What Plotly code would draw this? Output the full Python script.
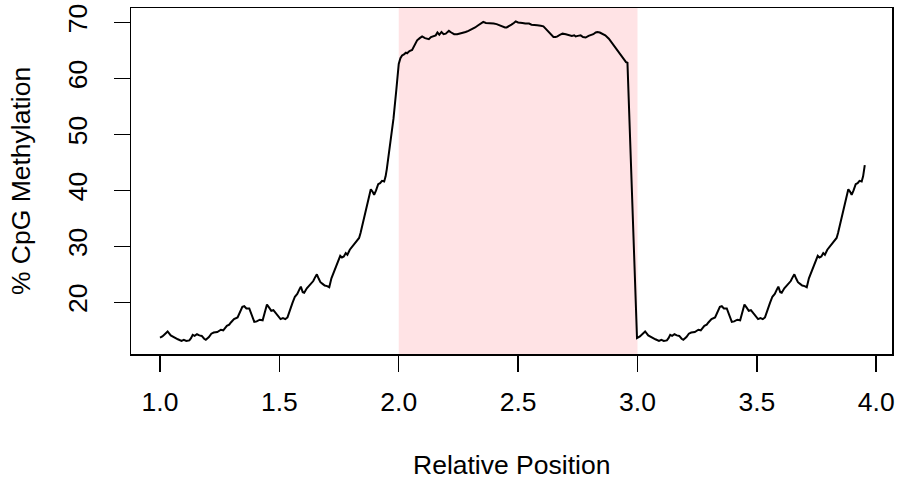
import plotly.graph_objects as go

# ---- data ----
upstream_pos = [1.000, 1.010, 1.020, 1.032, 1.045, 1.060, 1.075, 1.090, 1.100, 1.110,
                1.123, 1.130, 1.137, 1.145, 1.155, 1.165, 1.175, 1.185, 1.192, 1.205,
                1.215, 1.225, 1.240, 1.255, 1.265, 1.280, 1.290, 1.297, 1.310, 1.325,
                1.335, 1.345, 1.353, 1.362, 1.374, 1.385, 1.395, 1.405, 1.418, 1.430,
                1.440, 1.448, 1.458, 1.466, 1.475, 1.485, 1.495, 1.505, 1.515, 1.525,
                1.534, 1.545, 1.555, 1.565, 1.575, 1.585, 1.590, 1.598, 1.604, 1.615,
                1.625, 1.632, 1.642, 1.650, 1.657, 1.665, 1.672, 1.681, 1.690, 1.700,
                1.709, 1.718, 1.728, 1.736, 1.748, 1.755, 1.762, 1.770, 1.778, 1.785,
                1.795, 1.806, 1.815, 1.825, 1.834, 1.840, 1.845, 1.855, 1.862, 1.872,
                1.883, 1.890, 1.897, 1.905, 1.914, 1.922, 1.930, 1.939, 1.945, 1.950,
                1.955, 1.960, 1.978, 1.990]
upstream_meth = [13.7, 13.9, 14.3, 14.8, 14.1, 13.7, 13.4, 13.1, 13.3, 13.1,
                 13.2, 13.6, 14.2, 14.0, 14.3, 14.1, 14.0, 13.5, 13.3, 13.8,
                 14.4, 14.6, 14.7, 15.1, 15.0, 15.8, 16.0, 16.4, 17.0, 17.3,
                 18.2, 19.2, 19.3, 18.9, 18.9, 17.5, 16.5, 16.6, 16.9, 16.8,
                 18.5, 19.6, 19.0, 18.5, 18.6, 18.0, 17.4, 17.0, 17.2, 17.0,
                 17.3, 18.8, 19.9, 21.0, 21.5, 22.4, 22.8, 21.8, 21.7, 22.5,
                 23.0, 23.4, 23.8, 24.5, 25.0, 24.2, 23.6, 23.3, 23.0, 22.9,
                 22.7, 24.3, 25.4, 26.5, 27.6, 28.3, 28.0, 28.2, 28.8, 28.5,
                 29.4, 30.0, 30.5, 31.2, 31.5, 32.4, 33.3, 35.0, 36.3, 38.2,
                 40.2, 39.8, 39.2, 40.0, 41.1, 41.3, 41.7, 41.6, 42.5, 43.8,
                 45.5, 47.3, 52.8, 58.0]

body_pos = [2.000, 2.007, 2.014, 2.022, 2.030, 2.035, 2.045, 2.056, 2.066, 2.077,
            2.088, 2.098, 2.110, 2.120, 2.126, 2.135, 2.145, 2.155, 2.162, 2.170,
            2.179, 2.188, 2.197, 2.205, 2.210, 2.220, 2.232, 2.245, 2.258, 2.270,
            2.280, 2.292, 2.308, 2.320, 2.330, 2.342, 2.354, 2.365, 2.375, 2.385,
            2.398, 2.410, 2.420, 2.432, 2.445, 2.452, 2.462, 2.472, 2.482, 2.490,
            2.500, 2.510, 2.518, 2.530, 2.546, 2.556, 2.567, 2.580, 2.595, 2.606,
            2.615, 2.622, 2.630, 2.640, 2.648, 2.657, 2.665, 2.675, 2.686, 2.700,
            2.713, 2.725, 2.735, 2.741, 2.750, 2.762, 2.772, 2.783, 2.795, 2.804,
            2.815, 2.825, 2.832, 2.842, 2.853, 2.865, 2.880, 2.890, 2.900, 2.915,
            2.929, 2.940, 2.952, 2.958]
body_meth = [62.6, 63.6, 64.1, 64.3, 64.6, 64.5, 64.9, 65.1, 66.0, 66.8,
             67.2, 67.5, 67.2, 67.0, 67.0, 67.4, 67.6, 67.7, 68.2, 67.8,
             68.3, 67.9, 68.0, 68.4, 68.5, 68.2, 67.9, 67.9, 68.0, 68.2,
             68.3, 68.5, 68.8, 69.1, 69.4, 69.8, 70.1, 69.9, 69.9, 69.8,
             69.8, 69.7, 69.5, 69.3, 69.1, 69.1, 69.3, 69.6, 69.9, 70.2,
             70.0, 70.0, 69.9, 69.8, 69.8, 69.6, 69.5, 69.5, 69.4, 69.3,
             68.9, 68.6, 68.3, 67.8, 67.4, 67.4, 67.5, 67.8, 68.0, 67.9,
             67.8, 67.6, 67.7, 67.5, 67.6, 67.7, 67.4, 67.3, 67.6, 67.7,
             67.9, 68.2, 68.3, 68.2, 68.0, 67.7, 67.1, 66.5, 65.9, 65.0,
             64.1, 63.5, 62.9, 62.8]

downstream_pos = [2.998, 3.010, 3.020, 3.032, 3.045, 3.060, 3.075, 3.090, 3.100, 3.110,
                  3.123, 3.130, 3.137, 3.145, 3.155, 3.165, 3.175, 3.185, 3.192, 3.205,
                  3.215, 3.225, 3.240, 3.255, 3.265, 3.280, 3.290, 3.297, 3.310, 3.325,
                  3.335, 3.345, 3.353, 3.362, 3.374, 3.385, 3.395, 3.405, 3.418, 3.430,
                  3.440, 3.448, 3.458, 3.466, 3.475, 3.485, 3.495, 3.505, 3.515, 3.525,
                  3.534, 3.545, 3.555, 3.565, 3.575, 3.585, 3.590, 3.598, 3.604, 3.615,
                  3.625, 3.632, 3.642, 3.650, 3.657, 3.665, 3.672, 3.681, 3.690, 3.700,
                  3.709, 3.718, 3.728, 3.736, 3.748, 3.755, 3.762, 3.770, 3.778, 3.785,
                  3.795, 3.806, 3.815, 3.825, 3.834, 3.840, 3.845, 3.855, 3.862, 3.872,
                  3.883, 3.890, 3.897, 3.905, 3.914, 3.922, 3.930, 3.939, 3.945, 3.952]
downstream_meth = [13.6, 13.9, 14.3, 14.8, 14.1, 13.7, 13.4, 13.1, 13.3, 13.1,
                   13.2, 13.6, 14.2, 14.0, 14.3, 14.1, 14.0, 13.5, 13.3, 13.8,
                   14.4, 14.6, 14.7, 15.1, 15.0, 15.8, 16.0, 16.4, 17.0, 17.3,
                   18.2, 19.2, 19.3, 18.9, 18.9, 17.5, 16.5, 16.6, 16.9, 16.8,
                   18.5, 19.6, 19.0, 18.5, 18.6, 18.0, 17.4, 17.0, 17.2, 17.0,
                   17.3, 18.8, 19.9, 21.0, 21.5, 22.4, 22.8, 21.8, 21.7, 22.5,
                   23.0, 23.4, 23.8, 24.5, 25.0, 24.2, 23.6, 23.3, 23.0, 22.9,
                   22.7, 24.3, 25.4, 26.5, 27.6, 28.3, 28.0, 28.2, 28.8, 28.5,
                   29.4, 30.0, 30.5, 31.2, 31.5, 32.4, 33.3, 35.0, 36.3, 38.2,
                   40.2, 39.8, 39.2, 40.0, 41.1, 41.3, 41.7, 41.6, 42.5, 44.5]

highlight_region = [2.0, 3.0]
x_ticks = [1.0, 1.5, 2.0, 2.5, 3.0, 3.5, 4.0]
x_tick_labels = ["1.0", "1.5", "2.0", "2.5", "3.0", "3.5", "4.0"]
y_ticks = [20, 30, 40, 50, 60, 70]
y_tick_labels = ["20", "30", "40", "50", "60", "70"]
x_title = "Relative Position"
y_title = "% CpG Methylation"

FONT = "Liberation Sans, Arial, Helvetica, sans-serif"
FS = 26.5

fig = go.Figure()
fig.add_trace(go.Scatter(
    x=upstream_pos + body_pos + downstream_pos,
    y=upstream_meth + body_meth + downstream_meth,
    mode="lines",
    line=dict(color="black", width=2),
    hoverinfo="skip",
    showlegend=False,
))

fig.add_vrect(x0=highlight_region[0], x1=highlight_region[1],
              fillcolor="#FFE3E5", line_width=0, layer="below")

fig.update_layout(
    width=899, height=481,
    margin=dict(l=131, r=6.5, t=7.5, b=126.5, autoexpand=False),
    paper_bgcolor="white", plot_bgcolor="white",
    font=dict(family=FONT, size=FS, color="black"),
    showlegend=False,
)
fig.update_xaxes(
    range=[0.8786, 4.066], tickmode="array", tickvals=x_ticks, ticktext=x_tick_labels,
    ticks="outside", ticklen=16, tickwidth=1.5, tickcolor="black",
    showline=True, linecolor="black", linewidth=1.5, mirror=True,
    showgrid=False, zeroline=False, ticklabelstandoff=8,
    tickfont=dict(family=FONT, size=FS, color="black"),
)
fig.update_yaxes(
    range=[10.77, 72.58], tickmode="array", tickvals=y_ticks, ticktext=y_tick_labels,
    ticks="outside", ticklen=16, tickwidth=1.5, tickcolor="black", tickangle=-90,
    showline=True, linecolor="black", linewidth=1.5, mirror=True,
    showgrid=False, zeroline=False, ticklabelstandoff=16,
    tickfont=dict(family=FONT, size=FS, color="black"),
)
fig.add_annotation(text=x_title, xref="paper", yref="paper", x=0.5, y=-0.3213,
                   xanchor="center", yanchor="middle", showarrow=False,
                   font=dict(family=FONT, size=FS, color="black"))
fig.add_annotation(text=y_title, xref="paper", yref="paper", x=-0.1444, y=0.5,
                   xanchor="center", yanchor="middle", textangle=-90, showarrow=False,
                   font=dict(family=FONT, size=FS, color="black"))

fig.write_html(
    "out.html",
    config={"displayModeBar": False, "staticPlot": True},
    post_script="document.documentElement.style.margin='0';document.body.style.margin='0';"
                "document.body.style.overflow='hidden';",
)
